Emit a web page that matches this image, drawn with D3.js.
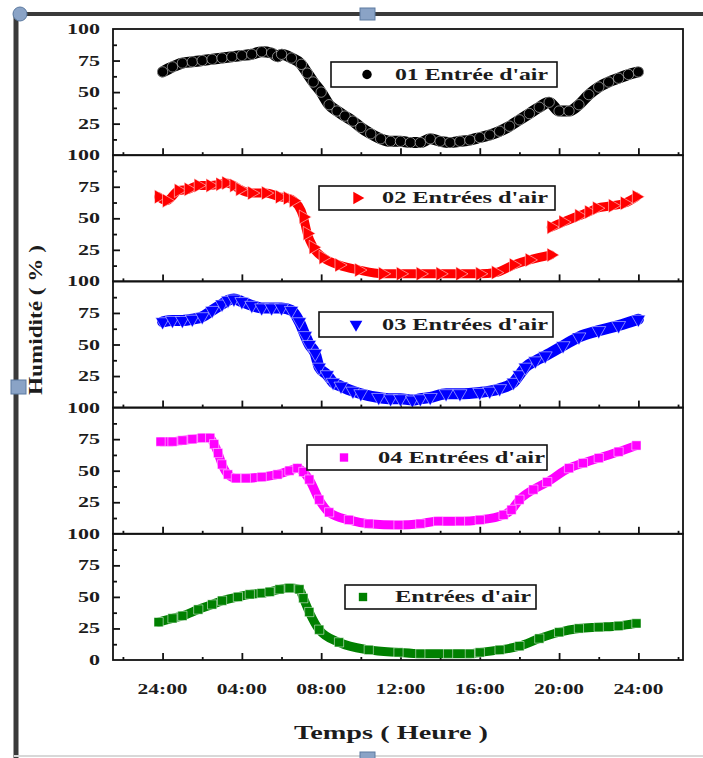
<!DOCTYPE html>
<html><head><meta charset="utf-8">
<script src="https://cdn.jsdelivr.net/npm/d3@7"></script>
<style>body{margin:0;background:#fff}svg{display:block}text{font-family:"Liberation Serif","Times New Roman",serif;font-weight:bold;fill:#1c1c1c}</style>
</head><body><svg id="c" width="703" height="758"></svg>
<script>
// ---- data (hours after midnight, humidity %) ----
const xTickHours = [0, 4, 8, 12, 16, 20, 24];
const xTickLabels = ["24:00", "04:00", "08:00", "12:00", "16:00", "20:00", "24:00"];
const xMinorHours = [-2, 2, 6, 10, 14, 18, 22, 26];
const yMajorTicks = [25, 50, 75];
const yMinorTicks = [12.5, 37.5, 62.5, 87.5];
const legendLabels = ["01  Entrée d'air", "02 Entrées d'air", "03 Entrées d'air", "04 Entrées d'air", "Entrées d'air"];
const seriesColors = ["#000000", "#ff0000", "#0000ff", "#ff00ff", "#008000"];

const hours1 = [0,0.5,1,1.5,2,2.5,3,3.5,4,4.5,5,5.5,5.8,6,6.5,7,7.3,7.6,8,8.4,8.8,9.2,9.6,10,10.5,11,11.5,12,12.5,13,13.5,14,14.5,15,15.5,16,16.5,17,17.5,18,18.5,19,19.5,20,20.5,21,21.5,22,22.5,23,23.5,24];
const humid1 = [66,70,73,74,75,76,77,78,79,80,82,81,78,80,77,72,65,58,50,40,35,31,27,22,17,13,11,11,10,10,13,11,10,11,12,14,16,19,23,28,33,38,42,35,35,40,48,54,58,61,64,66];

const hours2a = [-0.2,0.2,0.8,1.3,1.8,2.4,2.9,3.2,3.6,3.9,4.5,5.2,5.9,6.3,6.6,7.1,7.3,7.6,8.1,8.9,9.9,11.1,12,13,14,15,16,16.8,17.7,18.5,19.6];
const humid2a = [67,64,72,73,76,76,77,78,76,73,70,70,67,66,64,51,38,27,19,13,9,6,6,6,6,6,6,7,13,17,21];
const hours2b = [19.6,20.2,21,21.5,21.9,22.7,23.3,23.9];
const humid2b = [43,47,52,55,58,60,62,67];

const hours3 = [0,0.5,1,1.5,2,2.5,3,3.3,3.6,4,4.5,5,5.5,6,6.5,6.9,7.2,7.4,7.7,7.9,8.3,8.6,9,9.6,10,10.9,11.5,12,12.6,13,13.5,14.3,15,16,16.5,17,17.7,18,18.3,18.8,19.3,20.2,21,22,23,24];
const humid3 = [68,69,69,70,72,77,82,85,86,84,81,79,79,79,77,68,57,50,43,32,26,20,17,13,11,8,7,7,6,7,8,11,11,12,13,15,20,26,32,37,41,49,56,61,65,70];

const hours4 = [-0.1,0.5,1,1.5,2,2.4,2.6,2.8,3.0,3.3,3.7,4.2,5,5.8,6.4,6.8,7.1,7.4,7.9,8.4,9.4,10.4,11.9,13,13.9,15,16,17.2,17.6,18,18.7,19.4,20.5,21.2,22,23,23.9];
const humid4 = [73,73,74,75,76,76,71,64,55,47,44,44,45,47,50,52,49,43,27,17,11,8,7,8,10,10,11,15,19,27,35,41,52,56,60,65,70];

const hours5 = [-0.2,0.5,1,1.8,2.5,3,3.8,4.4,5,5.4,5.9,6.4,6.9,7.1,7.4,7.9,8.9,10.4,11.9,13,14.4,15.5,16,17,18,19,20,21,22,23,23.9];
const humid5 = [30,33,35,40,44,47,50,52,53,54,56,57,56,49,38,24,14,8,6,5,5,5,6,8,11,17,22,25,26,27,29];

const zip = (h, v) => h.map((d, i) => ({h: d, v: v[i]}));
const panels = [
  {segs: [zip(hours1, humid1)], sym: d3.symbolCircle, rot: 0, w: 11},
  {segs: [zip(hours2a, humid2a), zip(hours2b, humid2b)], sym: d3.symbolTriangle, rot: 90, w: 9},
  {segs: [zip(hours3, humid3)], sym: d3.symbolTriangle, rot: 180, w: 11},
  {segs: [zip(hours4, humid4)], sym: d3.symbolSquare, rot: 0, w: 9},
  {segs: [zip(hours5, humid5)], sym: d3.symbolSquare, rot: 0, w: 9}
];
const legendBoxes = [
  {x: 331, y: 62, w: 226, h: 25, mx: 367, tx: 395, tl: 153},
  {x: 319, y: 186, w: 236, h: 24, mx: 357, tx: 382, tl: 166},
  {x: 319, y: 312, w: 234, h: 25, mx: 356, tx: 382, tl: 166},
  {x: 307, y: 445, w: 240, h: 25, mx: 344, tx: 378, tl: 167},
  {x: 345, y: 585, w: 191, h: 24, mx: 363, tx: 395, tl: 136}
];

// ---- layout ----
const svg = d3.select("#c");
const L = 113, R = 683, T0 = 29, PH = 126.2;
const x = d3.scaleLinear().domain([-2.5, 26.25]).range([L, R]);

// decorative frame (page object border)
svg.append("line").attr("x1", 14).attr("x2", 703).attr("y1", 14).attr("y2", 14).attr("stroke", "#3a3a3a").attr("stroke-width", 4);
svg.append("line").attr("x1", 16).attr("x2", 16).attr("y1", 12).attr("y2", 758).attr("stroke", "#3a3a3a").attr("stroke-width", 5);
svg.append("line").attr("x1", 14).attr("x2", 703).attr("y1", 756).attr("y2", 756).attr("stroke", "#d8d8d8").attr("stroke-width", 2);

panels.forEach((p, i) => {
  const top = T0 + i * PH, bot = top + PH;
  const y = d3.scaleLinear().domain([0, 100]).range([bot, top]);
  const g = svg.append("g");
  const col = seriesColors[i];

  // inward ticks
  const ax1 = g.append("g").attr("transform", `translate(${L},0)`).call(d3.axisRight(y).tickValues(yMajorTicks).tickSize(7).tickFormat(""));
  const ax2 = g.append("g").attr("transform", `translate(${L},0)`).call(d3.axisRight(y).tickValues(yMinorTicks).tickSize(4).tickFormat(""));
  const ax3 = g.append("g").attr("transform", `translate(0,${bot})`).call(d3.axisTop(x).tickValues(xTickHours).tickSize(7).tickFormat(""));
  const ax4 = g.append("g").attr("transform", `translate(0,${bot})`).call(d3.axisTop(x).tickValues(xMinorHours).tickSize(3).tickFormat(""));
  [ax1, ax2, ax3, ax4].forEach(a => { a.select(".domain").remove(); a.selectAll("line").attr("stroke", "#111").attr("stroke-width", 1.8); });

  // data band + markers
  const line = d3.line().x(d => x(d.h)).y(d => y(d.v)).curve(d3.curveMonotoneX);
  p.segs.forEach(seg => {
    g.append("path").attr("d", line(seg)).attr("fill", "none").attr("stroke", col)
      .attr("stroke-width", p.w).attr("stroke-linejoin", "round").attr("stroke-linecap", "round");
    g.selectAll(null).data(seg).enter().append("path")
      .attr("d", d3.symbol().type(p.sym).size(85)())
      .attr("transform", d => `translate(${x(d.h)},${y(d.v)}) rotate(${p.rot})`)
      .attr("fill", col).attr("stroke", "#fff").attr("stroke-width", 0.5);
  });

  // frame
  g.append("rect").attr("x", L).attr("y", top).attr("width", R - L).attr("height", PH)
    .attr("fill", "none").attr("stroke", "#111").attr("stroke-width", 1.8);

  // y labels
  const labs = [100, 75, 50, 25].concat(i === panels.length - 1 ? [0] : []);
  labs.forEach(v => {
    const s = String(v);
    g.append("text").attr("x", 100).attr("y", y(v) + 5).attr("text-anchor", "end")
      .attr("font-size", 15).attr("textLength", s.length * 11).attr("lengthAdjust", "spacingAndGlyphs").text(s);
  });

  // legend
  const lb = legendBoxes[i];
  g.append("rect").attr("x", lb.x).attr("y", lb.y).attr("width", lb.w).attr("height", lb.h)
    .attr("fill", "#fff").attr("stroke", "#111").attr("stroke-width", 1.6);
  g.append("path").attr("d", d3.symbol().type(p.sym).size(70)())
    .attr("transform", `translate(${lb.mx},${lb.y + lb.h / 2}) rotate(${p.rot})`).attr("fill", col);
  g.append("text").attr("x", lb.tx).attr("y", lb.y + lb.h / 2 + 5).attr("font-size", 16)
    .attr("textLength", lb.tl).attr("lengthAdjust", "spacingAndGlyphs").text(legendLabels[i]);
});

// x tick labels
const lastBot = T0 + 5 * PH;
svg.selectAll(".xl").data(xTickHours).enter().append("text")
  .attr("x", d => x(d)).attr("y", lastBot + 34).attr("text-anchor", "middle").attr("font-size", 15)
  .attr("textLength", 50).attr("lengthAdjust", "spacingAndGlyphs").text((d, i) => xTickLabels[i]);

// axis titles
svg.append("text").attr("x", 391).attr("y", 739).attr("text-anchor", "middle").attr("font-size", 19)
  .attr("textLength", 194).attr("lengthAdjust", "spacingAndGlyphs").text("Temps ( Heure )");
svg.append("text").attr("transform", "translate(42,320) rotate(-90)").attr("text-anchor", "middle").attr("font-size", 19)
  .attr("textLength", 150).attr("lengthAdjust", "spacingAndGlyphs").text("Humidité ( % )");

// handles
svg.append("circle").attr("cx", 20).attr("cy", 14).attr("r", 7).attr("fill", "#8aa3c6").attr("stroke", "#5c7aa0");
svg.append("rect").attr("x", 360).attr("y", 8).attr("width", 15).attr("height", 12).attr("fill", "#8aa3c6").attr("stroke", "#5c7aa0");
svg.append("rect").attr("x", 11).attr("y", 380).attr("width", 15).attr("height", 14).attr("fill", "#8aa3c6").attr("stroke", "#5c7aa0");
svg.append("rect").attr("x", 360).attr("y", 752).attr("width", 15).attr("height", 8).attr("fill", "#8aa3c6").attr("stroke", "#5c7aa0");
</script></body></html>
